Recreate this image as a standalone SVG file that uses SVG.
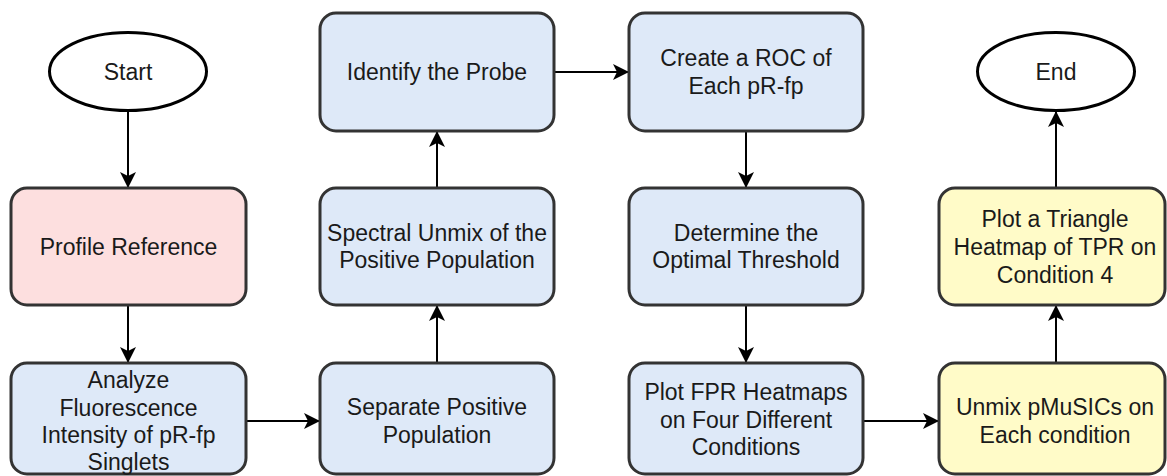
<svg xmlns="http://www.w3.org/2000/svg" width="1167" height="476" viewBox="0 0 1167 476">
<defs>
<style>
.box{stroke:#333333;stroke-width:3}
.blue{fill:#dee9f8}
.pink{fill:#fddfdf}
.yellow{fill:#fffbc8}
.term{fill:#ffffff;stroke:#000000;stroke-width:3}
.t{font-family:"Liberation Sans",Arial,sans-serif;font-size:23px;fill:#1a1a1a;text-anchor:middle}
.edge{stroke:#000000;stroke-width:2;fill:none;marker-end:url(#ah)}
</style>
<marker id="ah" markerUnits="userSpaceOnUse" markerWidth="18" markerHeight="18" refX="16" refY="8" orient="auto" viewBox="0 0 18 16">
<path d="M0,0 L16,8 L0,16 L4,8 Z" fill="#000000"/>
</marker>
</defs>
<rect width="1167" height="476" fill="#ffffff"/>
<g id="connectors">
<path class="edge" d="M128,111 L128,188"/>
<path class="edge" d="M128,305 L128,363"/>
<path class="edge" d="M246,421 L320,421"/>
<path class="edge" d="M437,363 L437,305"/>
<path class="edge" d="M437,188 L437,131"/>
<path class="edge" d="M554,72 L629,72"/>
<path class="edge" d="M746,131 L746,188"/>
<path class="edge" d="M746,305 L746,363"/>
<path class="edge" d="M863,421 L939,421"/>
<path class="edge" d="M1056,363 L1056,305"/>
<path class="edge" d="M1056,188 L1056,111"/>
</g>
<g id="start">
<ellipse class="term" cx="128" cy="71.5" rx="78.5" ry="39"/>
<text class="t" x="128" y="80">Start</text>
</g>
<g id="profile">
<rect class="box pink" x="11" y="188" width="235" height="117" rx="16"/>
<text class="t" x="128.5" y="254.5">Profile Reference</text>
</g>
<g id="analyze">
<rect class="box blue" x="11" y="363" width="235" height="111" rx="16"/>
<text class="t" x="128.5" y="388">Analyze</text>
<text class="t" x="128.5" y="415.5">Fluorescence</text>
<text class="t" x="128.5" y="443">Intensity of pR-fp</text>
<text class="t" x="128.5" y="470">Singlets</text>
</g>
<g id="separate">
<rect class="box blue" x="320" y="363" width="234" height="111" rx="16"/>
<text class="t" x="437" y="415">Separate Positive</text>
<text class="t" x="437" y="442.5">Population</text>
</g>
<g id="spectral">
<rect class="box blue" x="320" y="188" width="234" height="117" rx="16"/>
<text class="t" x="437" y="240.5">Spectral Unmix of the</text>
<text class="t" x="437" y="268">Positive Population</text>
</g>
<g id="identify">
<rect class="box blue" x="320" y="13" width="234" height="118" rx="16"/>
<text class="t" x="437" y="80">Identify the Probe</text>
</g>
<g id="roc">
<rect class="box blue" x="629" y="13" width="234" height="118" rx="16"/>
<text class="t" x="746" y="66">Create a ROC of</text>
<text class="t" x="746" y="93.5">Each pR-fp</text>
</g>
<g id="determine">
<rect class="box blue" x="629" y="188" width="234" height="117" rx="16"/>
<text class="t" x="746" y="240.5">Determine the</text>
<text class="t" x="746" y="268">Optimal Threshold</text>
</g>
<g id="fpr">
<rect class="box blue" x="629" y="363" width="234" height="111" rx="16"/>
<text class="t" x="746" y="400">Plot FPR Heatmaps</text>
<text class="t" x="746" y="427.5">on Four Different</text>
<text class="t" x="746" y="455">Conditions</text>
</g>
<g id="unmix">
<rect class="box yellow" x="939" y="363" width="226" height="111" rx="16"/>
<text class="t" x="1055" y="415">Unmix pMuSICs on</text>
<text class="t" x="1055" y="442.5">Each condition</text>
</g>
<g id="triangle">
<rect class="box yellow" x="939" y="188" width="226" height="117" rx="16"/>
<text class="t" x="1055" y="226.5">Plot a Triangle</text>
<text class="t" x="1055" y="254.5">Heatmap of TPR on</text>
<text class="t" x="1055" y="282.5">Condition 4</text>
</g>
<g id="end">
<ellipse class="term" cx="1056" cy="71.5" rx="78.5" ry="39"/>
<text class="t" x="1056" y="80">End</text>
</g>
</svg>
